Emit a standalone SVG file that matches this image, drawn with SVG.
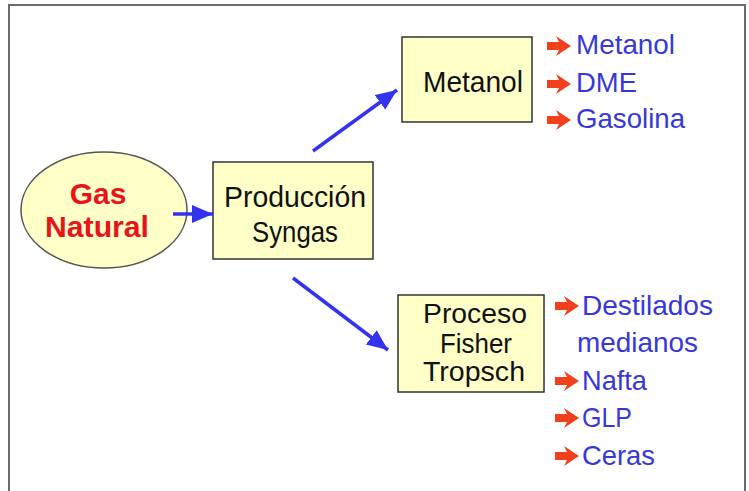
<svg xmlns="http://www.w3.org/2000/svg" width="749" height="491" viewBox="0 0 749 491">
  <style>
    .frame { fill: #ffffff; stroke: #6b6b6b; stroke-width: 2; }
    .box { fill: #ffffc8; stroke: #333333; stroke-width: 1.5; }
    .oval { fill: #ffffc8; stroke: #555555; stroke-width: 1.5; }
    .label { font-family: "Liberation Sans", Arial, sans-serif; font-size: 29px; fill: #111111; text-anchor: middle; }
    .label.tight { font-size: 27px; }
    .title { font-family: "Liberation Sans", Arial, sans-serif; font-size: 30px; font-weight: bold; fill: #e8141c; text-anchor: middle; }
    .item { font-family: "Liberation Sans", Arial, sans-serif; font-size: 27.5px; fill: #3838d8; }
    .link { stroke: #3333ee; stroke-width: 3.5; fill: none; }
    .bullet { fill: #f2401c; }
  </style>
  <defs>
    <marker id="head" markerUnits="userSpaceOnUse" markerWidth="24" markerHeight="20" refX="21" refY="9" orient="auto">
      <path d="M0,0 L21,9 L0,18 Z" fill="#3333ee"/>
    </marker>
    <!-- bold red bullet arrow, tip at origin -->
    <path id="bullet" class="bullet" d="M-24,-4 L-12,-4 L-15,-10 L0,0 L-15,10 L-12,4 L-24,4 Z"/>
  </defs>

  <!-- slide frame -->
  <rect class="frame" x="9" y="5" width="736" height="500"/>

  <g id="gas-natural">
    <ellipse class="oval" cx="104" cy="210" rx="83" ry="58"/>
    <text class="title" x="98" y="204">Gas</text>
    <text class="title" x="97" y="237" textLength="104" lengthAdjust="spacingAndGlyphs">Natural</text>
  </g>

  <g id="produccion-syngas">
    <rect class="box" x="213" y="162" width="160" height="97"/>
    <text class="label" x="295" y="207" textLength="142" lengthAdjust="spacingAndGlyphs">Producción</text>
    <text class="label" x="295" y="242" textLength="86" lengthAdjust="spacingAndGlyphs">Syngas</text>
  </g>

  <g id="metanol">
    <rect class="box" x="402" y="37" width="130" height="85"/>
    <text class="label" x="473" y="92" textLength="100" lengthAdjust="spacingAndGlyphs">Metanol</text>
  </g>

  <g id="fischer-tropsch">
    <rect class="box" x="398" y="295" width="146" height="97"/>
    <text class="label tight" x="475" y="323" textLength="104" lengthAdjust="spacingAndGlyphs">Proceso</text>
    <text class="label tight" x="476" y="353" textLength="72" lengthAdjust="spacingAndGlyphs">Fisher</text>
    <text class="label tight" x="474" y="381" textLength="102" lengthAdjust="spacingAndGlyphs">Tropsch</text>
  </g>

  <g id="metanol-products">
    <use href="#bullet" x="571" y="46"/>
    <text class="item" x="576" y="54" textLength="99" lengthAdjust="spacingAndGlyphs">Metanol</text>
    <use href="#bullet" x="571" y="84"/>
    <text class="item" x="576" y="92" textLength="61" lengthAdjust="spacingAndGlyphs">DME</text>
    <use href="#bullet" x="571" y="120"/>
    <text class="item" x="576" y="128" textLength="109" lengthAdjust="spacingAndGlyphs">Gasolina</text>
  </g>

  <g id="ft-products">
    <use href="#bullet" x="579" y="306"/>
    <text class="item" x="582" y="315" textLength="131" lengthAdjust="spacingAndGlyphs">Destilados</text>
    <text class="item" x="577" y="352" textLength="121" lengthAdjust="spacingAndGlyphs">medianos</text>
    <use href="#bullet" x="579" y="381"/>
    <text class="item" x="582" y="390" textLength="65" lengthAdjust="spacingAndGlyphs">Nafta</text>
    <use href="#bullet" x="579" y="418"/>
    <text class="item" x="582" y="427" textLength="50" lengthAdjust="spacingAndGlyphs">GLP</text>
    <use href="#bullet" x="579" y="456"/>
    <text class="item" x="582" y="465" textLength="73" lengthAdjust="spacingAndGlyphs">Ceras</text>
  </g>

  <!-- connectors, drawn over the nodes -->
  <g id="connectors">
    <line class="link" x1="173" y1="214" x2="213" y2="214" marker-end="url(#head)"/>
    <line class="link" x1="313" y1="151" x2="397" y2="90" marker-end="url(#head)"/>
    <line class="link" x1="293" y1="278" x2="388" y2="350" marker-end="url(#head)"/>
  </g>
</svg>
